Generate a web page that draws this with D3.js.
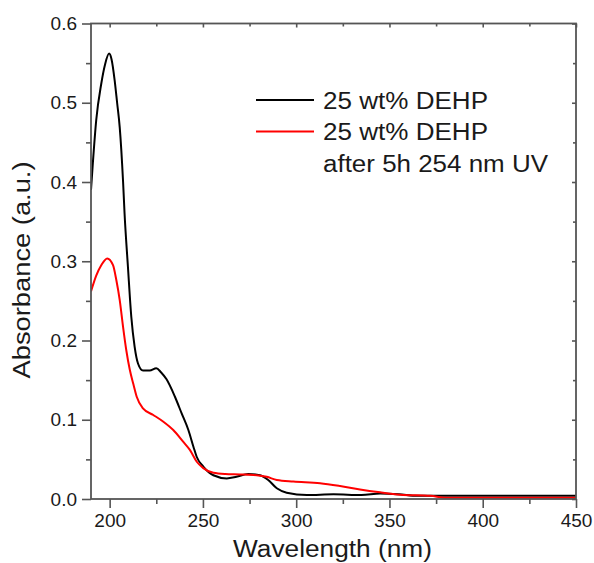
<!DOCTYPE html>
<html>
<head>
<meta charset="utf-8">
<script src="https://cdn.jsdelivr.net/npm/d3@7"></script>
<style>
  html, body { margin: 0; padding: 0; background: #fff; }
  svg { display: block; }
  text { font-family: "Liberation Sans", Arial, sans-serif; fill: #1a1a1a; }
</style>
</head>
<body>
<svg id="chart" width="594" height="563"></svg>
<script>
// ---- data ----
const blackWl = [190, 191, 192.8, 195.5, 197.5, 199.7, 201, 202.7, 204, 205.4, 207.2, 208, 209.8, 211.6, 213.4, 215.2, 217.9, 221.5, 225, 227.5, 230.5, 235, 238.6, 242.2, 244.9, 246.7, 250.2, 255.6, 262.8, 268, 274.3, 280.6, 285, 289.6, 294.9, 305.7, 320, 335, 345, 355, 365, 380, 450];
const blackAbs = [0.39, 0.424, 0.478, 0.524, 0.548, 0.562, 0.555, 0.528, 0.50, 0.469, 0.40, 0.36, 0.293, 0.23, 0.192, 0.171, 0.162, 0.162, 0.165, 0.160, 0.151, 0.129, 0.108, 0.087, 0.066, 0.053, 0.041, 0.030, 0.026, 0.028, 0.0315, 0.030, 0.024, 0.0135, 0.008, 0.005, 0.006, 0.005, 0.007, 0.006, 0.004, 0.004, 0.004];
const redWl = [190, 192.8, 195.5, 198.7, 201.8, 203.6, 205.4, 207.2, 208.9, 210.8, 212.7, 214.5, 218, 223.4, 228.8, 234.1, 239.5, 243, 246.7, 250.2, 255.6, 262, 270, 278.8, 284.2, 289.6, 298.5, 312.8, 323.5, 334.2, 345, 355.7, 372, 380, 450];
const redAbs = [0.262, 0.282, 0.295, 0.3035, 0.295, 0.276, 0.251, 0.217, 0.188, 0.163, 0.145, 0.129, 0.114, 0.106, 0.0975, 0.087, 0.072, 0.062, 0.047, 0.039, 0.033, 0.0315, 0.031, 0.030, 0.028, 0.024, 0.022, 0.020, 0.0164, 0.012, 0.0084, 0.0055, 0.004, 0.0015, 0.0015];
const xTicks = [200, 250, 300, 350, 400, 450];
const xMinor = [225, 275, 325, 375, 425];
const yTicks = [0.0, 0.1, 0.2, 0.3, 0.4, 0.5, 0.6];
const yMinor = [0.05, 0.15, 0.25, 0.35, 0.45, 0.55];
const seriesNames = ["25 wt% DEHP", "25 wt% DEHP"];
const legendExtra = "after 5h 254 nm UV";
const seriesColors = ["#000000", "#ff0000"];

// ---- layout ----
const L = 91, R = 576, T = 23.5, B = 499;
const svg = d3.select("#chart");
const x = d3.scaleLinear().domain([190, 450]).range([L, R]);
const y = d3.scaleLinear().domain([0, 0.6]).range([B, T]);
const axisColor = "#555";

// ---- curves ----
const line = d3.line().x(d => x(d[0])).y(d => y(d[1])).curve(d3.curveMonotoneX);
const series = [
  blackWl.map((w, i) => [w, blackAbs[i]]),
  redWl.map((w, i) => [w, redAbs[i]])
];
svg.append("defs").append("clipPath").attr("id", "clip")
  .append("rect").attr("x", L).attr("y", T).attr("width", R - L).attr("height", B - T);
const plot = svg.append("g").attr("clip-path", "url(#clip)");
series.forEach((s, i) => {
  plot.append("path").datum(s).attr("d", line)
    .attr("fill", "none").attr("stroke", seriesColors[i])
    .attr("stroke-width", 2).attr("stroke-linejoin", "round");
});

// ---- axes ----
function styleAxis(g) {
  g.select(".domain").remove();
  g.selectAll("line").attr("stroke", axisColor).attr("stroke-width", 1.6);
}
// bottom
const bx = svg.append("g").attr("transform", `translate(0,${B})`)
  .call(d3.axisBottom(x).tickValues(xTicks).tickSize(9).tickPadding(6).tickFormat(d3.format("d")));
styleAxis(bx);
bx.selectAll("text").attr("font-size", 19).attr("fill", "#1a1a1a").attr("font-family", "Liberation Sans, Arial, sans-serif");
svg.append("g").attr("transform", `translate(0,${B})`)
  .call(d3.axisBottom(x).tickValues(xMinor).tickSize(5).tickFormat(""))
  .call(styleAxis);
// left
const ly = svg.append("g").attr("transform", `translate(${L},0)`)
  .call(d3.axisLeft(y).tickValues(yTicks).tickSize(9).tickPadding(5).tickFormat(d3.format(".1f")));
styleAxis(ly);
ly.selectAll("text").attr("font-size", 19).attr("fill", "#1a1a1a").attr("font-family", "Liberation Sans, Arial, sans-serif");
svg.append("g").attr("transform", `translate(${L},0)`)
  .call(d3.axisLeft(y).tickValues(yMinor).tickSize(5).tickFormat(""))
  .call(styleAxis);
// top (inward ticks)
svg.append("g").attr("transform", `translate(0,${T})`)
  .call(d3.axisBottom(x).tickValues(xTicks).tickSize(4).tickFormat(""))
  .call(styleAxis);
svg.append("g").attr("transform", `translate(0,${T})`)
  .call(d3.axisBottom(x).tickValues(xMinor).tickSize(3).tickFormat(""))
  .call(styleAxis);
// right (inward ticks)
svg.append("g").attr("transform", `translate(${R},0)`)
  .call(d3.axisLeft(y).tickValues(yTicks).tickSize(4).tickFormat(""))
  .call(styleAxis);
svg.append("g").attr("transform", `translate(${R},0)`)
  .call(d3.axisLeft(y).tickValues(yMinor).tickSize(3).tickFormat(""))
  .call(styleAxis);
// frame
svg.append("rect").attr("x", L).attr("y", T).attr("width", R - L).attr("height", B - T)
  .attr("fill", "none").attr("stroke", axisColor).attr("stroke-width", 1.8);

// ---- titles ----
svg.append("text").attr("x", 332.5).attr("y", 557).attr("text-anchor", "middle")
  .attr("font-size", 23).attr("textLength", 199).attr("lengthAdjust", "spacingAndGlyphs")
  .text("Wavelength (nm)");
svg.append("text").attr("transform", `translate(29.5,270) rotate(-90)`).attr("text-anchor", "middle")
  .attr("font-size", 23).attr("textLength", 217).attr("lengthAdjust", "spacingAndGlyphs")
  .text("Absorbance (a.u.)");

// ---- legend ----
const legY = [100, 131.5];
const txtY = [108.5, 140, 171.5];
seriesNames.forEach((n, i) => {
  svg.append("line").attr("x1", 256).attr("x2", 314).attr("y1", legY[i]).attr("y2", legY[i])
    .attr("stroke", seriesColors[i]).attr("stroke-width", 2);
  svg.append("text").attr("x", 323).attr("y", txtY[i]).attr("font-size", 23)
    .attr("textLength", 165).attr("lengthAdjust", "spacingAndGlyphs").text(n);
});
svg.append("text").attr("x", 323).attr("y", txtY[2]).attr("font-size", 23)
  .attr("textLength", 225).attr("lengthAdjust", "spacingAndGlyphs").text(legendExtra);
</script>
</body>
</html>
